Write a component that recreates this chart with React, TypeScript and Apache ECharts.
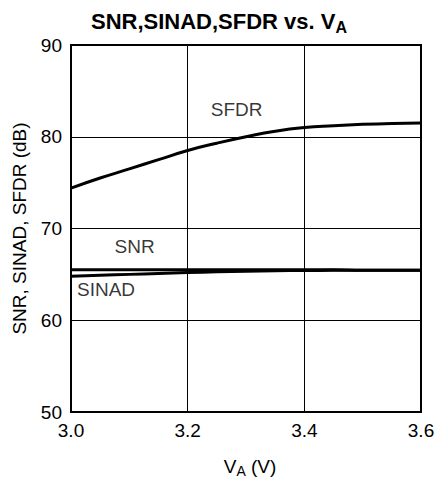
import React, { useEffect, useRef } from "react";
import * as echarts from "echarts";

const xValues = [3.0, 3.05, 3.1, 3.15, 3.2, 3.25, 3.3, 3.35, 3.4, 3.45, 3.5, 3.55, 3.6];
const sfdr = [74.4, 75.5, 76.5, 77.5, 78.5, 79.3, 80.0, 80.6, 81.0, 81.2, 81.35, 81.45, 81.5];
const snr = [65.5, 65.5, 65.5, 65.5, 65.5, 65.5, 65.5, 65.5, 65.5, 65.5, 65.45, 65.45, 65.45];
const sinad = [64.8, 64.9, 65.0, 65.1, 65.2, 65.28, 65.35, 65.4, 65.42, 65.44, 65.45, 65.45, 65.45];
const seriesLabels = [
  { name: "SFDR", x: 3.284, y: 83.0 },
  { name: "SNR", x: 3.109, y: 68.0 },
  { name: "SINAD", x: 3.06, y: 63.35 },
];

const FONT = "'Liberation Sans', Arial, Helvetica, sans-serif";

export default function App() {
  const ref = useRef<HTMLDivElement>(null);
  useEffect(() => {
    if (!ref.current) return;
    const chart = echarts.init(ref.current, undefined, { renderer: "svg" });
    const toPairs = (ys: number[]) => xValues.map((x, i) => [x, ys[i]]);
    const lineStyle = { color: "#000", width: 3 };
    chart.setOption({
      animation: false,
      backgroundColor: "#fff",
      textStyle: { fontFamily: FONT },
      title: {
        text: "SNR,SINAD,SFDR vs. V{s|A}",
        left: "center",
        top: 3,
        textStyle: {
          fontFamily: FONT,
          fontSize: 22,
          fontWeight: "bold",
          color: "#000",
          rich: {
            s: { fontFamily: FONT, fontSize: 16, fontWeight: "bold", color: "#000", padding: [11, 0, 0, 0] },
          },
        },
      },
      grid: {
        left: 71,
        right: 17,
        top: 45,
        bottom: 71,
        show: true,
        borderColor: "#000",
        borderWidth: 2,
        containLabel: false,
      },
      xAxis: {
        type: "value",
        min: 3.0,
        max: 3.6,
        interval: 0.2,
        name: "V{s|A} (V)",
        nameLocation: "middle",
        nameGap: 42,
        nameTextStyle: {
          fontFamily: FONT,
          fontSize: 19,
          color: "#000",
          padding: [0, 0, 0, 8],
          rich: { s: { fontFamily: FONT, fontSize: 14, color: "#000", padding: [10, 0, 0, 0] } },
        },
        axisLine: { show: true, lineStyle: { color: "#000", width: 2 } },
        axisTick: { show: false },
        axisLabel: {
          color: "#000",
          fontSize: 19,
          fontFamily: FONT,
          margin: 9,
          formatter: (v: number) => v.toFixed(1),
        },
        splitLine: { show: true, lineStyle: { color: "#000", width: 1 } },
      },
      yAxis: {
        type: "value",
        min: 50,
        max: 90,
        interval: 10,
        name: "SNR, SINAD, SFDR (dB)",
        nameLocation: "middle",
        nameGap: 42,
        nameTextStyle: { fontFamily: FONT, fontSize: 19, color: "#000" },
        axisLine: { show: true, lineStyle: { color: "#000", width: 2 } },
        axisTick: { show: false },
        axisLabel: { color: "#000", fontSize: 19, fontFamily: FONT, margin: 9 },
        splitLine: { show: true, lineStyle: { color: "#000", width: 1 } },
      },
      series: [
        { type: "line", name: "SFDR", data: toPairs(sfdr), smooth: true, showSymbol: false, lineStyle },
        { type: "line", name: "SNR", data: toPairs(snr), smooth: true, showSymbol: false, lineStyle },
        { type: "line", name: "SINAD", data: toPairs(sinad), smooth: true, showSymbol: false, lineStyle },
        {
          type: "scatter",
          symbolSize: 0,
          silent: true,
          data: seriesLabels.map((l) => ({ value: [l.x, l.y], name: l.name })),
          label: {
            show: true,
            position: "inside",
            formatter: (p: any) => p.name,
            color: "#000",
            fontSize: 19,
            fontFamily: FONT,
            align: "center",
            verticalAlign: "middle",
          },
        },
      ],
    });
    return () => chart.dispose();
  }, []);
  return (
    <div
      ref={ref}
      style={{ position: "fixed", left: 0, top: 0, width: 438, height: 483 }}
    />
  );
}
